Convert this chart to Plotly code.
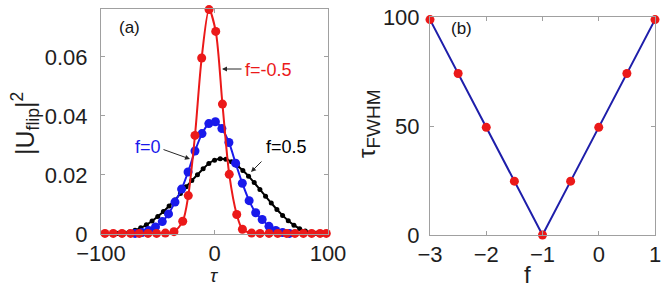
import plotly.graph_objects as go

# ---- panel (a) data ----
tau_red = [-96.5, -89.2, -81.5, -73.9, -66.3, -58.6, -51.0, -43.3, -35.7, -28.0, -23.1, -17.2, -11.3,
           -4.8, 1.1, 7.0, 13.0, 19.6, 24.6, 32.7, 40.1, 48.0, 55.7, 63.6, 70.9, 78.3, 85.6, 93.0, 98.5]
u_red = [0.0002, 0.0002, 0.0002, 0.0002, 0.0002, 0.0002, 0.0002, 0.0003, 0.0008, 0.0043, 0.0130, 0.0334, 0.0596,
         0.0760, 0.0686, 0.0440, 0.0202, 0.0066, 0.0016, 0.0003, 0.0002, 0.0002, 0.0002, 0.0002, 0.0002, 0.0002,
         0.0002, 0.0002, 0.0002]

tau_blue = [-70.0, -64.0, -58.0, -52.0, -46.0, -40.5, -34.8, -29.0, -23.3, -17.2, -11.0, -5.0, 0.8, 6.5,
            12.7, 18.6, 24.5, 30.5, 36.3, 42.0, 48.0, 54.0, 60.0, 66.0]
u_blue = [0.0002, 0.0005, 0.0012, 0.0024, 0.0042, 0.0068, 0.0108, 0.0152, 0.0210, 0.0281, 0.0340, 0.0374,
          0.0380, 0.0357, 0.0310, 0.0240, 0.0172, 0.0113, 0.0072, 0.0049, 0.0026, 0.0012, 0.0005, 0.0002]

tau_black = [-85, -80, -75, -70, -65, -60, -55, -50, -45, -40, -35, -30, -25, -20, -15, -10, -5, 0, 5, 10,
             15, 20, 25, 30, 35, 40, 45, 50, 55, 60, 65, 70, 75, 80, 85, 90, 95]
u_black = [0.0002, 0.0004, 0.0007, 0.0013, 0.0021, 0.0031, 0.0044, 0.0059, 0.0076, 0.0095, 0.0115, 0.0137,
           0.0160, 0.0181, 0.0201, 0.0221, 0.0239, 0.0250, 0.0255, 0.0253, 0.0245, 0.0232, 0.0215, 0.0196,
           0.0174, 0.0151, 0.0128, 0.0105, 0.0083, 0.0063, 0.0045, 0.0030, 0.0018, 0.0010, 0.0005, 0.0002,
           0.0001]

# ---- panel (b) data ----
f_vals = [-3, -2.5, -2, -1.5, -1, -0.5, 0, 0.5, 1]
fwhm = [98.8, 74.1, 49.4, 24.7, 0, 24.7, 49.4, 74.1, 98.8]

# ticks
xa_ticks = [-100, 0, 100]
ya_ticks = [0, 0.02, 0.04, 0.06]
ya_labels = ["0", "0.02", "0.04", "0.06"]
xb_ticks = [-3, -2, -1, 0, 1]
yb_ticks = [0, 50, 100]

RED = "rgb(235,25,25)"
BLUE = "rgb(25,25,235)"
BLACK = "rgb(0,0,0)"
TXT = "rgb(30,30,30)"
FONT = "Liberation Sans, Arial, sans-serif"
W, H = 667, 283

def px(x):
    return x / W

def py(y):
    return 1 - y / H

fig = go.Figure()
fig.add_trace(go.Scatter(x=tau_black, y=u_black, mode="lines+markers", line=dict(color=BLACK, width=2, shape="spline", smoothing=0.8),
                         marker=dict(color=BLACK, size=5), cliponaxis=False, xaxis="x", yaxis="y"))
fig.add_trace(go.Scatter(x=tau_blue, y=u_blue, mode="lines+markers", line=dict(color=BLUE, width=2, shape="spline", smoothing=0.8),
                         marker=dict(color=BLUE, size=9), cliponaxis=False, xaxis="x", yaxis="y"))
fig.add_trace(go.Scatter(x=tau_red, y=u_red, mode="lines+markers", line=dict(color=RED, width=2, shape="spline", smoothing=0.8),
                         marker=dict(color=RED, size=9), cliponaxis=False, xaxis="x", yaxis="y"))
fig.add_trace(go.Scatter(x=f_vals, y=fwhm, mode="lines+markers", line=dict(color="rgb(30,30,170)", width=2),
                         marker=dict(color=RED, size=9), cliponaxis=False, xaxis="x2", yaxis="y2"))

def ax(standoff):
    return dict(showgrid=False, zeroline=False, showline=True, linecolor="rgb(160,160,160)", linewidth=1,
                mirror="ticks", ticks="inside", ticklen=4, tickcolor="rgb(160,160,160)", automargin=False,
                ticklabelstandoff=standoff,
                tickfont=dict(family=FONT, size=22, color=TXT))

fig.update_layout(
    width=W, height=H, margin=dict(l=0, r=0, t=0, b=0, autoexpand=False),
    paper_bgcolor="white", plot_bgcolor="white", showlegend=False,
    xaxis=dict(domain=[px(101), px(328)], range=[-100, 100], tickvals=xa_ticks, anchor="y", **ax(0)),
    yaxis=dict(domain=[py(234), py(9)], range=[0, 0.0762], tickvals=ya_ticks, ticktext=ya_labels, anchor="x", **ax(8)),
    xaxis2=dict(domain=[px(430), px(655)], range=[-3, 1], tickvals=xb_ticks, anchor="y2", **ax(0)),
    yaxis2=dict(domain=[py(235), py(17)], range=[0, 100], tickvals=yb_ticks, anchor="x2", **ax(5)),
)

def arrow(tip, tail):
    return dict(x=px(tip[0]), y=py(tip[1]), xref="paper", yref="paper",
                ax=tail[0] - tip[0], ay=tail[1] - tip[1], axref="pixel", ayref="pixel",
                text="", showarrow=True, arrowhead=2, arrowsize=1, arrowwidth=1, arrowcolor="rgb(40,40,40)")

def label(x, y, text, size, color=TXT, angle=0):
    return dict(x=px(x), y=py(y), xref="paper", yref="paper", text=text, textangle=angle,
                xanchor="center", yanchor="middle", showarrow=False,
                font=dict(family=FONT, size=size, color=color))

ann = []
# axis titles
ann.append(label(25, 124, "|U<sub>flip</sub>|<sup>2</sup>", 25, angle=-90))
ann.append(label(214, 275, "<i>τ</i>", 19))
ann.append(label(368, 124, "τ<sub><span style='font-size:19px'>FWHM</span></sub>", 24, angle=-90))
ann.append(label(527, 274, "f", 24))
# panel labels
ann.append(label(129, 27, "(a)", 17, color="rgb(20,20,20)"))
ann.append(label(461, 28, "(b)", 17, color="rgb(20,20,20)"))
# curve labels with arrows
ann.append(arrow((222, 69), (243, 69)))
ann.append(label(268, 70, "f=-0.5", 18, color=RED))
ann.append(arrow((190, 159), (162, 149)))
ann.append(label(148, 147, "f=0", 18, color=BLUE))
ann.append(arrow((251, 172), (263, 160)))
ann.append(label(286, 147, "f=0.5", 18, color=BLACK))
fig.update_layout(annotations=ann)

fig.write_html("out.html", config={"displayModeBar": False},
               post_script="document.body.style.margin='0px';document.body.style.overflow='hidden';")
